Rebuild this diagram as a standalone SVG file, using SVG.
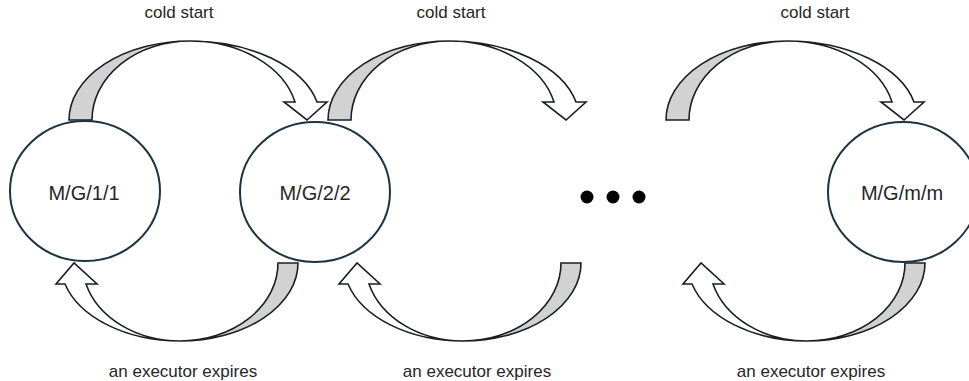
<svg xmlns="http://www.w3.org/2000/svg" xmlns:xlink="http://www.w3.org/1999/xlink" width="969" height="381" viewBox="0 0 969 381">
  <style>
    .node ellipse { fill: #ffffff; stroke: #1b3342; stroke-width: 2; }
    .node text { font-family: "Liberation Sans", Arial, sans-serif; font-size: 20px; fill: #262626; text-anchor: middle; }
    .lbl { font-family: "Liberation Sans", Arial, sans-serif; font-size: 17px; fill: #262626; text-anchor: middle; }
    .back { fill: #d2d2d2; stroke: #1a1f24; stroke-width: 1.6; stroke-linejoin: miter; }
    .front { fill: #ffffff; stroke: #1a1f24; stroke-width: 1.6; stroke-linejoin: miter; }
    .dot { fill: #000000; }
  </style>
  <defs>
    <g id="topArrow">
      <path class="back" d="M69,120 A121,79 0 0 1 190,41 A98,79 0 0 0 92,120 Z"/>
      <path class="front" d="M190,41 A130.4,79 0 0 1 317,102 L327,102 L307,120 L284,102 L295,102 A107.8,79 0 0 0 190,41 Z"/>
    </g>
    <g id="bottomArrow">
      <path class="back" d="M298,263 A118,78 0 0 1 180,341 A98,78 0 0 0 278,263 Z"/>
      <path class="front" d="M180,341 A119.4,78 0 0 1 65,284 L56,284 L74,263 L97,284 L86,284 A97.6,78 0 0 0 180,341 Z"/>
    </g>
  </defs>

  <g id="connectors">
    <use xlink:href="#topArrow" href="#topArrow"/>
    <use xlink:href="#topArrow" href="#topArrow" transform="translate(259,0)"/>
    <use xlink:href="#topArrow" href="#topArrow" transform="translate(597,0)"/>
    <use xlink:href="#bottomArrow" href="#bottomArrow"/>
    <use xlink:href="#bottomArrow" href="#bottomArrow" transform="translate(283,0)"/>
    <use xlink:href="#bottomArrow" href="#bottomArrow" transform="translate(627,0)"/>
  </g>

  <g id="labels">
    <text class="lbl" x="179" y="18">cold start</text>
    <text class="lbl" x="451" y="18">cold start</text>
    <text class="lbl" x="815" y="18">cold start</text>
    <text class="lbl" x="183" y="377">an executor expires</text>
    <text class="lbl" x="477" y="377">an executor expires</text>
    <text class="lbl" x="811" y="377">an executor expires</text>
  </g>

  <g id="node-mg11" class="node">
    <ellipse cx="85" cy="191" rx="75" ry="70"/>
    <text x="84" y="200">M/G/1/1</text>
  </g>
  <g id="node-mg22" class="node">
    <ellipse cx="315" cy="192" rx="75" ry="70"/>
    <text x="315" y="200">M/G/2/2</text>
  </g>
  <g id="ellipsis">
    <circle class="dot" cx="587" cy="197" r="6.5"/>
    <circle class="dot" cx="613" cy="197" r="6.5"/>
    <circle class="dot" cx="639" cy="197" r="6.5"/>
  </g>
  <g id="node-mgmm" class="node">
    <ellipse cx="903" cy="192" rx="75" ry="70"/>
    <text x="902" y="200">M/G/m/m</text>
  </g>
</svg>
